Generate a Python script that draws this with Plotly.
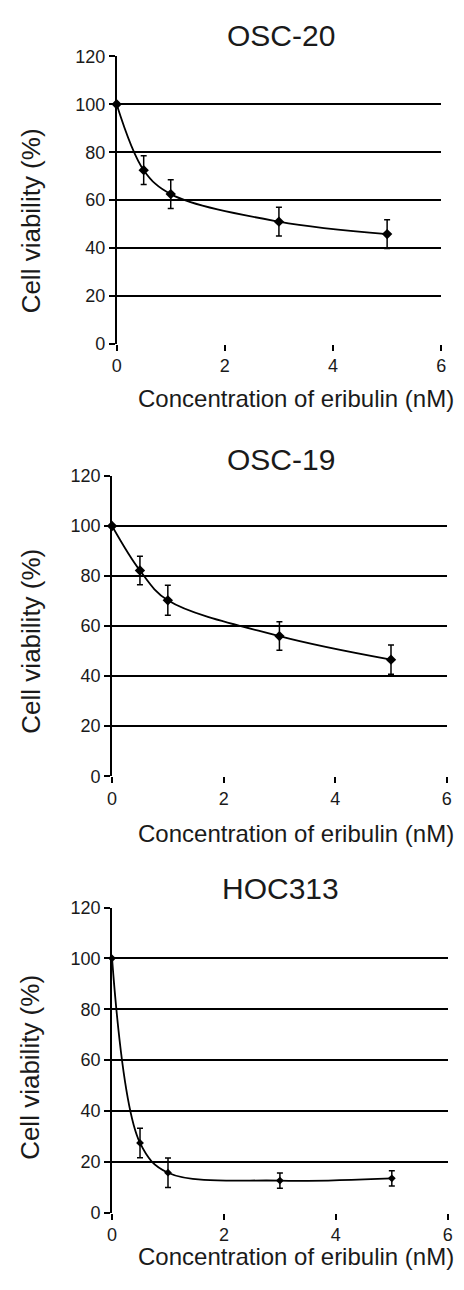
import plotly.graph_objects as go

# the page body has an 8px margin, so the figure is drawn 16px smaller
# and all positions below are given in page pixels, then shifted
PAGE_W, PAGE_H = 464, 1290
OFF = 8
W, H = PAGE_W - 2 * OFF, PAGE_H - 2 * OFF

concentration = [0, 0.5, 1, 3, 5]

osc20_viability = [100, 72.5, 62.5, 51.0, 45.8]
osc20_sd = [0, 6.0, 6.0, 6.0, 6.0]

osc19_viability = [100, 82.2, 70.3, 56.0, 46.6]
osc19_sd = [0, 5.7, 6.0, 5.7, 5.8]

hoc313_viability = [100, 27.4, 15.7, 12.6, 13.5]
hoc313_sd = [0, 5.8, 5.8, 3.0, 3.0]

panel_titles = ["OSC-20", "OSC-19", "HOC313"]
x_ticks = [0, 2, 4, 6]
y_ticks = [0, 20, 40, 60, 80, 100, 120]
x_title = "Concentration of eribulin (nM)"
y_title = "Cell viability (%)"

FONT = "Liberation Sans, Arial, sans-serif"
INK = "#1a1a1a"


def px(x):
    return (x - OFF) / W


def py(y):
    return 1 - (y - OFF) / H


# plot areas in page pixels: (left, right, top, bottom)
boxes = [
    (114, 446, 47, 339),
    (109.3, 451.7, 473.3, 778.3),
    (109.3, 452.7, 911.7, 1221.7),
]
# label centres in page pixels: (title_y, xtitle_y, ytitle_y)
labels = [
    (26, 395, 214),
    (457, 836, 641),
    (892, 1266, 1074),
]

series = [
    (osc20_viability, osc20_sd, 8),
    (osc19_viability, osc19_sd, 8),
    (hoc313_viability, hoc313_sd, 6),
]

fig = go.Figure()
layout = {}
annotations = []

for i, ((vals, sd, msize), (l, r, t, b), (ty, xty, yty)) in enumerate(zip(series, boxes, labels)):
    n = "" if i == 0 else str(i + 1)
    fig.add_trace(go.Scatter(
        x=concentration, y=vals,
        mode="lines+markers",
        line=dict(color="black", width=1.8, shape="spline", smoothing=1.0),
        marker=dict(symbol="diamond", size=msize, color="black"),
        error_y=dict(type="data", array=sd, visible=True, color="black",
                     thickness=1.5, width=3),
        xaxis="x" + n, yaxis="y" + n,
        showlegend=False,
        cliponaxis=False,
    ))
    layout["xaxis" + n] = dict(
        domain=[px(l), px(r)], anchor="y" + n,
        range=[0, 6], tickvals=x_ticks, showgrid=False, zeroline=False,
        showline=False, ticks="outside", ticklen=6, tickwidth=1.5,
        tickcolor="black", tickfont=dict(size=18, color=INK, family=FONT),
    )
    layout["yaxis" + n] = dict(
        domain=[py(b), py(t)], anchor="x" + n,
        range=[0, 120], tickvals=y_ticks, showgrid=True, gridcolor="black",
        gridwidth=1.6, zeroline=False, showline=True, linecolor="black",
        linewidth=1.6, ticks="outside", ticklen=6, tickwidth=1.5,
        tickcolor="black", tickfont=dict(size=18, color=INK, family=FONT),
    )
    annotations.append(dict(text=panel_titles[i], x=px(282), y=py(ty),
                            xref="paper", yref="paper", showarrow=False,
                            xanchor="center", yanchor="middle",
                            font=dict(size=30, color=INK, family=FONT)))
    annotations.append(dict(text=x_title, x=px(297), y=py(xty),
                            xref="paper", yref="paper", showarrow=False,
                            xanchor="center", yanchor="middle",
                            font=dict(size=24, color=INK, family=FONT)))
    annotations.append(dict(text=y_title, x=px(26), y=py(yty),
                            xref="paper", yref="paper", showarrow=False,
                            textangle=-90, xanchor="center", yanchor="middle",
                            font=dict(size=26, color=INK, family=FONT)))

fig.update_layout(
    width=W, height=H,
    margin=dict(l=0, r=0, t=0, b=0),
    paper_bgcolor="white", plot_bgcolor="white",
    annotations=annotations,
    **layout,
)

fig.write_html("out.html")
